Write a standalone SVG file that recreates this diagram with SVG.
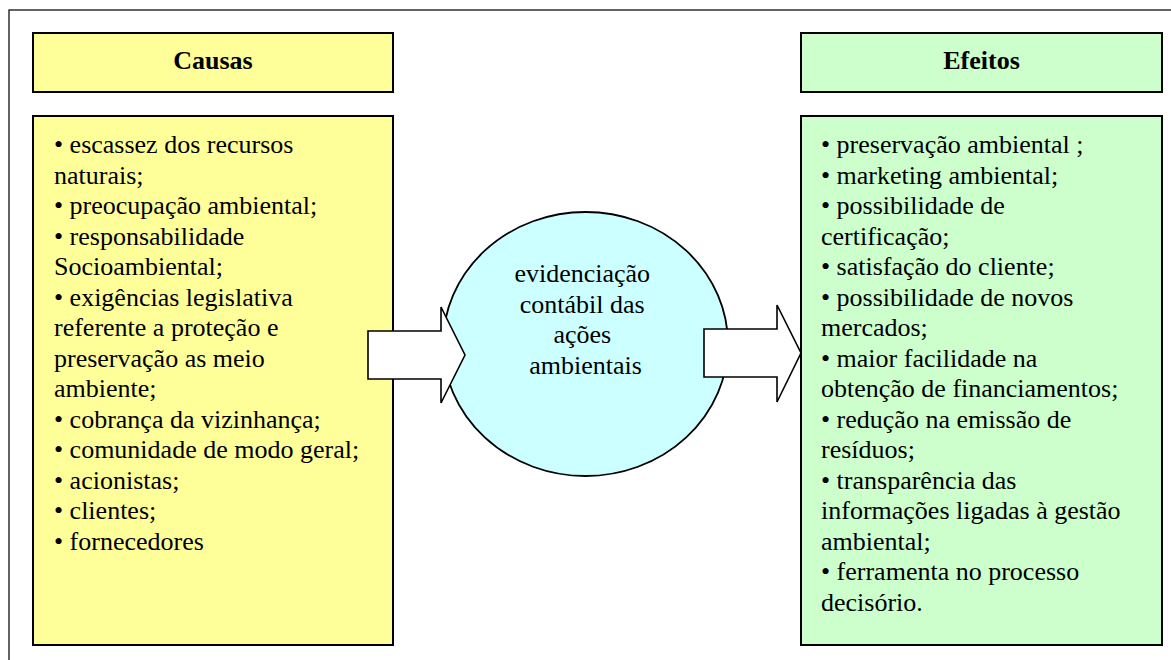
<svg xmlns="http://www.w3.org/2000/svg" width="1171" height="660" viewBox="0 0 1171 660">
<style>
text{font-family:'Liberation Serif','Times New Roman',serif;font-size:26px;fill:#000}
.h{font-weight:bold;text-anchor:middle}
.c{text-anchor:middle}
.box{stroke:#000;stroke-width:2}
.arrow{fill:#fff;stroke:#000;stroke-width:1.6;stroke-linejoin:miter}
</style>
<rect x="0" y="0" width="1171" height="660" fill="#fff"/>
<rect x="9" y="10" width="1200" height="700" fill="none" stroke="#222" stroke-width="1.4"/>
<g id="causas-header">
<rect class="box" x="33" y="33" width="360" height="59" fill="#FFFF99"/>
<text class="h" x="213" y="69" font-family="Liberation Serif, serif">Causas</text>
</g>
<g id="efeitos-header">
<rect class="box" x="801" y="33" width="361" height="59" fill="#CCFFCC"/>
<text class="h" x="981.5" y="69" font-family="Liberation Serif, serif">Efeitos</text>
</g>
<g id="causas">
<rect class="box" x="33" y="116" width="360" height="529" fill="#FFFF99"/>
<text font-family="Liberation Serif, serif" font-size="26">
<tspan x="54" y="153">• escassez dos recursos</tspan>
<tspan x="54" y="183.5">naturais;</tspan>
<tspan x="54" y="214">• preocupação ambiental;</tspan>
<tspan x="54" y="244.5">• responsabilidade</tspan>
<tspan x="54" y="275">Socioambiental;</tspan>
<tspan x="54" y="305.5">• exigências legislativa</tspan>
<tspan x="54" y="336">referente a proteção e</tspan>
<tspan x="54" y="366.5">preservação as meio</tspan>
<tspan x="54" y="397">ambiente;</tspan>
<tspan x="54" y="427.5">• cobrança da vizinhança;</tspan>
<tspan x="54" y="458">• comunidade de modo geral;</tspan>
<tspan x="54" y="488.5">• acionistas;</tspan>
<tspan x="54" y="519">• clientes;</tspan>
<tspan x="54" y="549.5">• fornecedores</tspan>
</text>
</g>
<g id="efeitos">
<rect class="box" x="801" y="116" width="361" height="529" fill="#CCFFCC"/>
<text font-family="Liberation Serif, serif" font-size="26">
<tspan x="821" y="153">• preservação ambiental ;</tspan>
<tspan x="821" y="183.5">• marketing ambiental;</tspan>
<tspan x="821" y="214">• possibilidade de</tspan>
<tspan x="821" y="244.5">certificação;</tspan>
<tspan x="821" y="275">• satisfação do cliente;</tspan>
<tspan x="821" y="305.5">• possibilidade de novos</tspan>
<tspan x="821" y="336">mercados;</tspan>
<tspan x="821" y="366.5">• maior facilidade na</tspan>
<tspan x="821" y="397">obtenção de financiamentos;</tspan>
<tspan x="821" y="427.5">• redução na emissão de</tspan>
<tspan x="821" y="458">resíduos;</tspan>
<tspan x="821" y="488.5">• transparência das</tspan>
<tspan x="821" y="519">informações ligadas à gestão</tspan>
<tspan x="821" y="549.5">ambiental;</tspan>
<tspan x="821" y="580">• ferramenta no processo</tspan>
<tspan x="821" y="610.5">decisório.</tspan>
</text>
</g>
<g id="evidenciacao">
<ellipse cx="585.5" cy="344" rx="142.5" ry="132" fill="#CCFFFF" stroke="#000" stroke-width="1.8"/>
<text class="c" font-family="Liberation Serif, serif" font-size="26">
<tspan x="585.5" y="282.3">evidenciação</tspan>
<tspan x="585.5" y="312.8">contábil das</tspan>
<tspan x="585.5" y="343.3">ações</tspan>
<tspan x="585.5" y="373.8">ambientais</tspan>
</text>
</g>
<g id="connectors">
<polygon class="arrow" points="368,331 441,331 441,307 465,355 441,403 441,379 368,379"/>
<polygon class="arrow" points="704,329 777,329 777,305 801,353 777,402 777,377 704,377"/>
</g>
</svg>
